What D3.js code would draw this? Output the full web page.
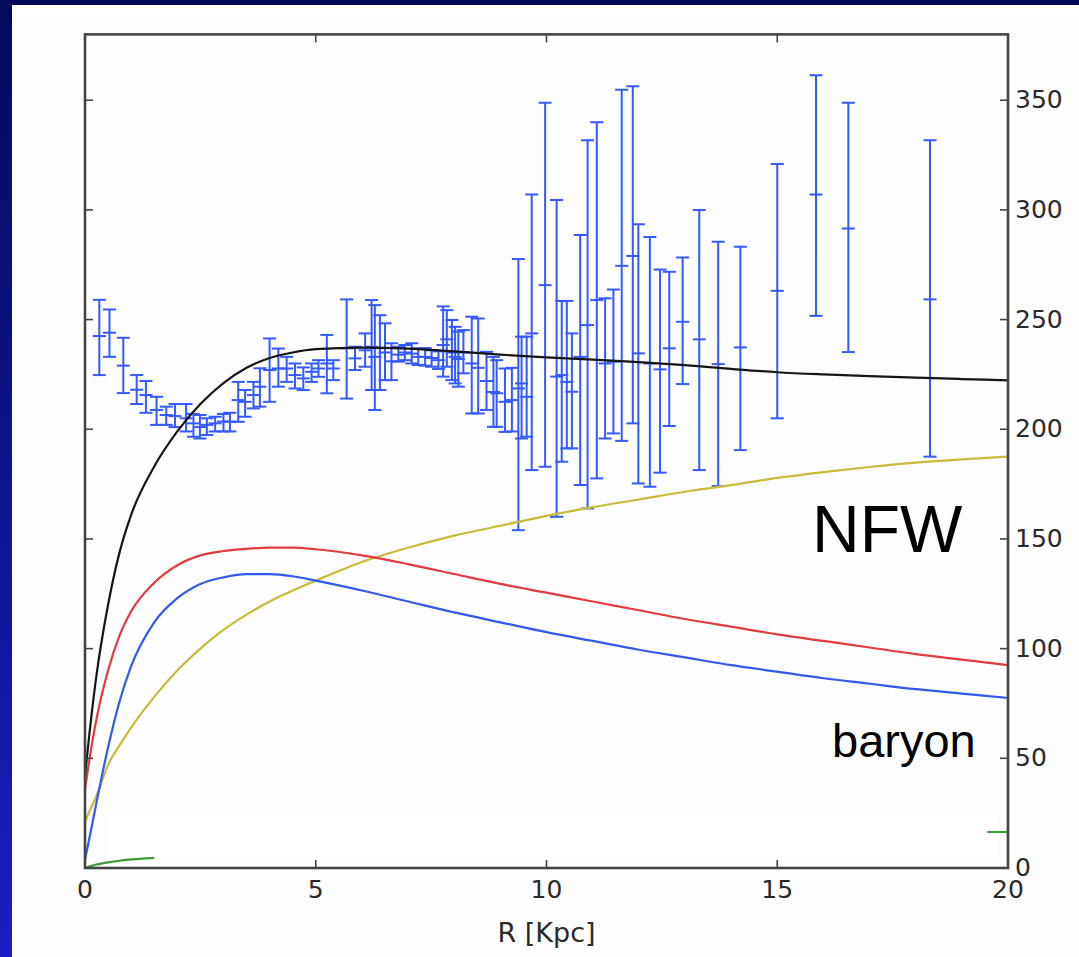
<!DOCTYPE html>
<html><head><meta charset="utf-8">
<script src="https://cdn.jsdelivr.net/npm/d3@7"></script>
<style>html,body{margin:0;padding:0;background:#fcfdfc;overflow:hidden}</style>
</head><body><svg id="c" width="1079" height="957"></svg>
<script>
// ---- data ----
const xTicks = [0, 5, 10, 15, 20];
const yTicks = [0, 50, 100, 150, 200, 250, 300, 350];
const curveR = [0,0.1,0.25,0.5,0.75,1,1.5,2,2.5,3,3.5,4,4.5,5,6,7,8,9,10,11,12,13,14,15,16,17,18,19,20];
const totalV  = [42,62,88,120,144,161,183,199,211.5,221,228,232.5,235,236.5,237.2,236.8,235.5,234,232.8,231.7,230.6,229.2,227.5,226,225,224.2,223.5,222.9,222.3];
const baryonV = [36,50,68,90,106,117,130,138,142.5,144.5,145.5,146,146,145.3,142.5,138.5,134,129.5,125.5,121.5,117.5,113.5,110,106.5,103.5,100.5,97.5,95,92.5];
const diskV   = [4,14,30,55,76,92,112,123,129.5,132.5,134,134,133,131,126.5,121.5,116.5,112,107.5,103.5,99.5,96,92.5,89.5,86.5,84,81.5,79.5,77.5];
const nfwV    = [21,26,33,47,56,64,78,90,100,108.5,115.5,121.5,126.5,131,139.5,146,151.5,156,160.5,164.5,168,171.5,174.5,177.8,180.5,182.8,184.8,186.3,187.5];
const gasR = [0,0.25,0.5,0.75,1,1.25,1.5,null,19.55,20];
const gasV = [0,1.6,2.6,3.3,3.9,4.3,4.6,null,16.4,16.4];

const obsR  = [0.31,0.53,0.83,1.12,1.32,1.55,1.76,1.95,2.19,2.35,2.49,2.64,2.82,3.0,3.14,3.32,3.47,3.65,3.79,4.0,4.19,4.37,4.55,4.73,4.91,5.06,5.24,5.38,5.67,5.85,6.07,6.21,6.28,6.39,6.5,6.64,6.79,6.93,7.08,7.22,7.37,7.51,7.66,7.76,7.84,7.95,8.02,8.09,8.2,8.38,8.52,8.7,8.85,8.92,9.1,9.25,9.39,9.46,9.57,9.68,9.97,10.22,10.33,10.44,10.55,10.73,10.89,11.09,11.27,11.45,11.63,11.87,11.99,12.24,12.46,12.66,12.95,13.31,13.72,14.2,15.0,15.84,16.54,18.31];
const obsV  = [242.5,244,229,218,215.6,208.8,206.5,206,205,202.7,201,202,202.7,203.5,203.5,213.3,212.5,215.6,219.4,227,227.7,227.7,224.7,223.2,226.2,227.7,230,227.7,236.9,232.3,236,237.6,233,237,235,231,234,235,234.5,233,233,232.5,231.5,238.4,241,235,233,232,235,230,228,222,217,216.4,212.5,213.3,218.6,220.9,214.8,243.7,265.7,224,224.7,221.6,217.1,233,247.5,258.9,230,230.8,274.5,279,234.6,230,227.3,236.9,249,241,229.7,237.3,263.1,307,291.5,259.2];
const obsLo = [224.7,233,216.5,211.5,207.5,202,202,201,199,196.6,195.8,197.4,199,199,199,203.4,205.7,209.5,210.3,212.5,219.4,221.6,218.6,217.9,221.6,223.9,216.4,222.4,214,227,228.5,217.9,208.8,217.9,222.4,222.4,230.8,231.5,230,229.3,229,228.5,227.5,224,228.5,222.4,220.9,219.4,225.5,207.2,207.2,208.8,201.1,201.1,198.8,199,154,195.8,196.6,181.4,182.9,160.1,185.2,191.3,191.3,174.6,163.9,177.6,195.8,198.1,194.7,202.7,175.3,173.8,180.2,201.5,220.6,181.4,174.1,190.5,205,251.7,235.2,187.5];
const obsHi = [259,254.6,241.7,224.7,222,214.8,210.3,211.5,211.5,207,206.5,205,205.7,207,207.5,221.6,217.9,221.6,227.8,241.4,236.8,233,230,228.2,230,231.5,243,231.5,259.2,237.6,243.7,258.9,256.6,252,248.3,239.2,237.6,238.4,239.2,236.9,237,236,235.5,256,254.3,249.8,246.7,244.5,245.2,251.3,250.5,235.3,233,231.5,227.7,228,277.6,242.2,242.2,307,348.8,304.5,258.5,258.5,243.7,288.5,331.8,339.9,259.7,263.7,354.8,356.4,293.5,287.7,272.8,271.8,278.3,299.9,285.5,283.2,320.9,361.4,348.8,331.8];

// ---- drawing ----
const svg = d3.select('#c');
const W = 1079, H = 957;
const x = d3.scaleLinear().domain([0, 20]).range([85, 1008]);
const y = d3.scaleLinear().domain([0, 380]).range([868, 34.4]);

// slide frame
const defs = svg.append('defs');
const g1 = defs.append('linearGradient').attr('id','lb').attr('x1',0).attr('y1',0).attr('x2',0).attr('y2',1);
g1.append('stop').attr('offset','0%').attr('stop-color','#040a58');
g1.append('stop').attr('offset','100%').attr('stop-color','#1a1ec4');
svg.append('rect').attr('x',0).attr('y',0).attr('width',W).attr('height',H).attr('fill','#fcfdfc');
svg.append('rect').attr('x',0).attr('y',0).attr('width',W).attr('height',5).attr('fill','#030a5a');
svg.append('rect').attr('x',0).attr('y',0).attr('width',12).attr('height',H).attr('fill','url(#lb)');
svg.append('rect').attr('x',12).attr('y',5).attr('width',W-12).attr('height',17).attr('fill','#ffffff');
svg.append('rect').attr('x',x(0.5)).attr('y',810).attr('width',997-x(0.5)).attr('height',48).attr('fill','#ffffff');

const plot = svg.append('g');
plot.append('clipPath').attr('id','clip').append('rect')
  .attr('x',x(0)).attr('y',y(380)).attr('width',x(20)-x(0)).attr('height',y(0)-y(380));
const body = plot.append('g').attr('clip-path','url(#clip)');

// error bars
const eb = body.append('g').attr('stroke','#3459ff').attr('stroke-width',2).attr('fill','none');
obsR.forEach((r,i)=>{
  const cx = x(r);
  eb.append('line').attr('x1',cx).attr('x2',cx).attr('y1',y(obsLo[i])).attr('y2',y(obsHi[i]));
  [obsLo[i], obsHi[i], obsV[i]].forEach(v=>{
    eb.append('line').attr('x1',cx-6.5).attr('x2',cx+6.5).attr('y1',y(v)).attr('y2',y(v));
  });
});

// model curves
const line = d3.line().defined((d)=>d[0]!==null).x(d=>x(d[0])).y(d=>y(d[1])).curve(d3.curveMonotoneX);
function drawCurve(rs, vs, color){
  body.append('path').datum(rs.map((r,i)=>[r, vs[i]]))
    .attr('d', line).attr('fill','none').attr('stroke',color).attr('stroke-width',2.2);
}
drawCurve(gasR, gasV, '#3d9a35');
drawCurve(curveR, nfwV, '#c9bb3a');
drawCurve(curveR, diskV, '#3358ee');
drawCurve(curveR, baryonV, '#e23b3f');
drawCurve(curveR, totalV, '#151515');

// frame
const axc = '#444';
plot.append('rect').attr('x',x(0)).attr('y',y(380)).attr('width',x(20)-x(0)).attr('height',y(0)-y(380))
  .attr('fill','none').attr('stroke',axc).attr('stroke-width',2.6);
// ticks inward, all sides
const tk = plot.append('g').attr('stroke',axc).attr('stroke-width',1.6);
xTicks.slice(1,-1).forEach(t=>{
  tk.append('line').attr('x1',x(t)).attr('x2',x(t)).attr('y1',y(0)).attr('y2',y(0)-8);
  tk.append('line').attr('x1',x(t)).attr('x2',x(t)).attr('y1',y(380)).attr('y2',y(380)+8);
});
yTicks.slice(1).forEach(t=>{
  tk.append('line').attr('x1',x(0)).attr('x2',x(0)+8).attr('y1',y(t)).attr('y2',y(t));
  tk.append('line').attr('x1',x(20)).attr('x2',x(20)-8).attr('y1',y(t)).attr('y2',y(t));
});

// tick labels
const tf = {'font-family':'DejaVu Sans','font-size':'25px','fill':'#2a2a2a'};
xTicks.forEach(t=>{
  const tx = svg.append('text').attr('x',x(t)).attr('y',898).attr('text-anchor','middle').text(t);
  Object.entries(tf).forEach(([k,v])=>tx.attr(k,v));
});
yTicks.forEach(t=>{
  const tx = svg.append('text').attr('x',1015).attr('y',y(t)+8).attr('text-anchor','start').text(t);
  Object.entries(tf).forEach(([k,v])=>tx.attr(k,v));
});
const xl = svg.append('text').attr('x',x(10)).attr('y',942).attr('text-anchor','middle').text('R [Kpc]');
Object.entries(tf).forEach(([k,v])=>xl.attr(k,v));
xl.attr('font-size','27px');

// annotations
svg.append('text').attr('x',812).attr('y',552).attr('font-family','Liberation Sans, Arial, sans-serif')
  .attr('font-size','66px').attr('fill','#000').text('NFW');
svg.append('text').attr('x',832).attr('y',757).attr('font-family','Liberation Sans, Arial, sans-serif')
  .attr('font-size','47px').attr('fill','#000').text('baryon');
</script></body></html>
